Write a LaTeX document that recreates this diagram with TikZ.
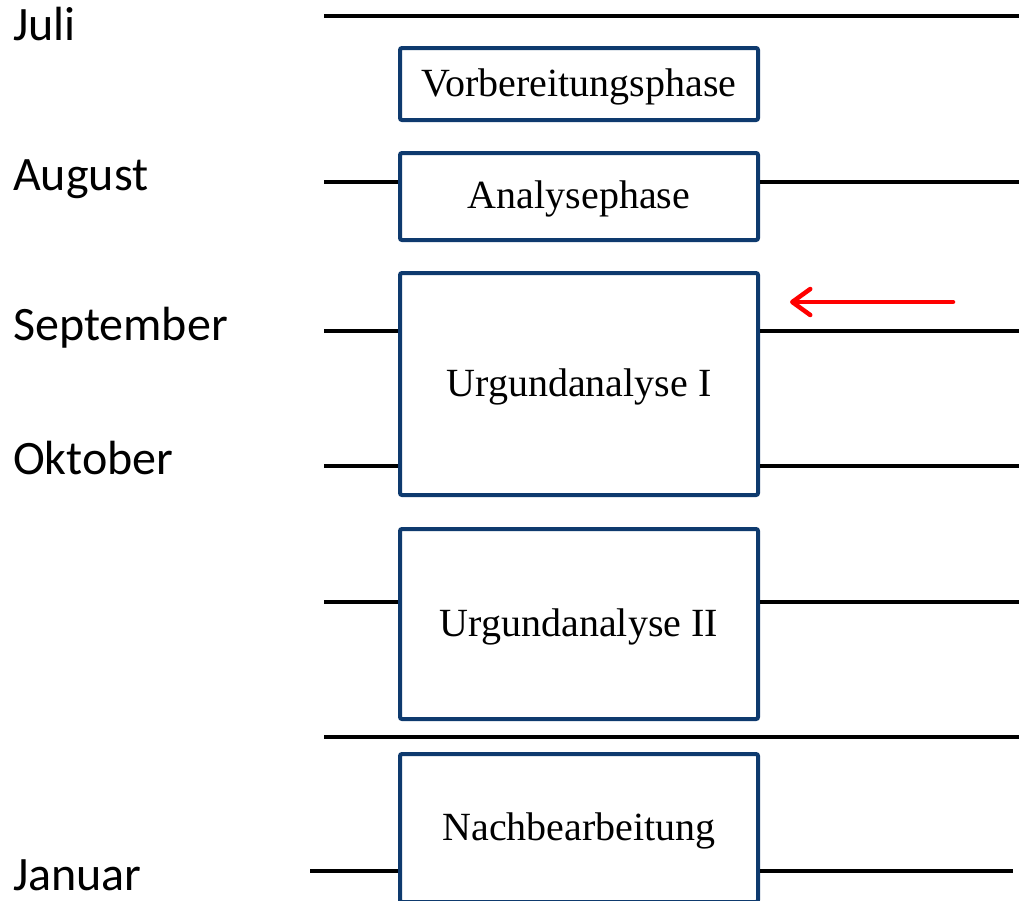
\documentclass[tikz,border=0pt]{standalone}
\usepackage{fontspec}
\setmainfont{Liberation Serif}
\newfontfamily\calib{Carlito}
\usetikzlibrary{arrows.meta}
\definecolor{boxblue}{RGB}{14,58,110}
\definecolor{arrred}{RGB}{255,0,0}
\tikzset{
  phase/.style={draw=boxblue, line width=4pt, rounded corners=2pt, fill=white,
    minimum width=358pt, inner sep=0pt, text height=30pt, text depth=6pt,
    font=\fontsize{40}{48}\selectfont},
  month/.style={anchor=base west, inner sep=0pt, font=\calib\fontsize{48}{58}\selectfont},
  mline/.style={line width=3.5pt, black},
  marker/.style={line width=4.5pt, arrred, line cap=round,
    -{Straight Barb[length=18pt,width=26pt,line width=4.5pt,round]}}
}
\begin{document}
\begin{tikzpicture}[x=1pt,y=-1pt]
\useasboundingbox (0,0) rectangle (1019,900);
\clip (0,0) rectangle (1019,900);
% phase boxes
\node[phase, minimum height=72pt]  (b1) at (579,84)    {Vorbereitungsphase};
\node[phase, minimum height=87pt]  (b2) at (579,196.5) {Analysephase};
\node[phase, minimum height=222pt] (b3) at (579,384)   {Urgundanalyse I};
\node[phase, minimum height=190pt] (b4) at (579,624)   {Urgundanalyse II};
\node[phase, minimum height=148pt] (b5) at (579,828)   {Nachbearbeitung};
% month labels
\node[month] (mjul) at (13,40)  {Juli};
\node[month] (maug) at (13,190) {August};
\node[month] (msep) at (13,340) {September};
\node[month] (mokt) at (13,474) {Oktober};
\node[month] (mjan) at (13,890) {Januar};
% line end points
\coordinate (l0) at (324,16);   \coordinate (r0) at (1019,16);
\coordinate (l1) at (324,182);  \coordinate (r1) at (1019,182);
\coordinate (l2) at (324,331);  \coordinate (r2) at (1019,331);
\coordinate (l3) at (324,466);  \coordinate (r3) at (1019,466);
\coordinate (l4) at (324,602);  \coordinate (r4) at (1019,602);
\coordinate (l5) at (324,737);  \coordinate (r5) at (1019,737);
\coordinate (l6) at (310,871);  \coordinate (r6) at (1013,871);
% lines
\draw[mline] (l0) -- (r0);
\draw[mline] (l1) -- (l1 -| b2.west);
\draw[mline] (b2.east |- r1) -- (r1);
\draw[mline] (l2) -- (l2 -| b3.west);
\draw[mline] (b3.east |- r2) -- (r2);
\draw[mline] (l3) -- (l3 -| b3.west);
\draw[mline] (b3.east |- r3) -- (r3);
\draw[mline] (l4) -- (l4 -| b4.west);
\draw[mline] (b4.east |- r4) -- (r4);
\draw[mline] (l5) -- (r5);
\draw[mline] (l6) -- (l6 -| b5.west);
\draw[mline] (b5.east |- r6) -- (r6);
% red arrow
\coordinate (as) at (953,302);
\coordinate (ae) at (790,302);
\draw[marker] (as) -- (ae);
\end{tikzpicture}
\end{document}
